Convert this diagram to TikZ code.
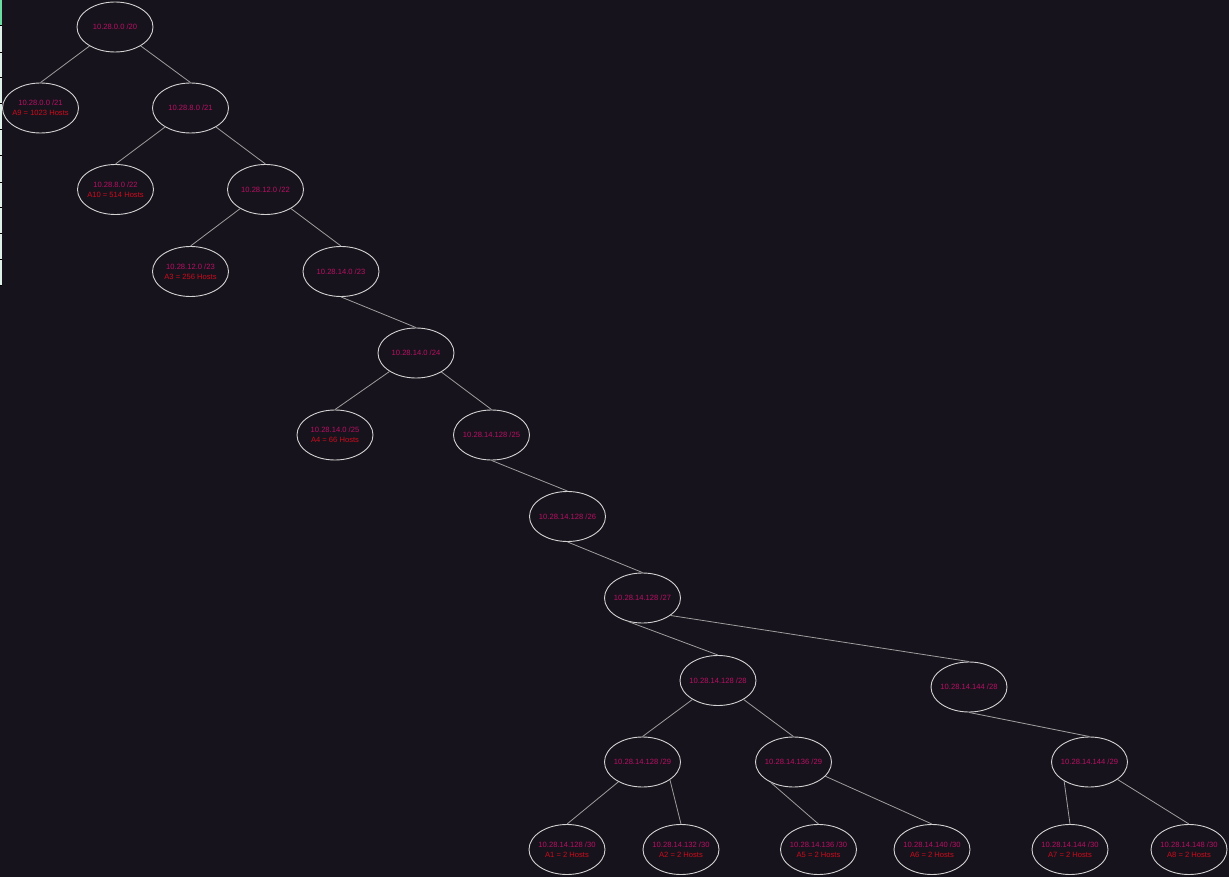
\documentclass[tikz,border=0pt]{standalone}
\usepackage{fontspec}
\setmainfont{Liberation Sans}
\usetikzlibrary{shapes.geometric}
\definecolor{bgdark}{RGB}{23,19,28}
\definecolor{rimgray}{RGB}{210,210,210}
\definecolor{edgegray}{RGB}{158,158,158}
\definecolor{ipcol}{RGB}{184,16,100}
\definecolor{hostcol}{RGB}{204,12,28}
\definecolor{stripcol}{RGB}{222,240,232}
\definecolor{stripgreen}{RGB}{110,220,160}

\begin{document}
\begin{tikzpicture}[x=1pt,y=-1pt]
\tikzstyle{every node}=[ellipse, draw=rimgray, line width=0.9pt, minimum width=76pt, minimum height=50pt, inner sep=-8pt, align=center, text=ipcol, font=\fontsize{7.6}{10}\selectfont]
\tikzstyle{link}=[draw=edgegray, line width=0.8pt]
\fill[bgdark] (0,0) rectangle (1229,877);
\useasboundingbox (0,0) rectangle (1229,877);
% screenshot edge
\fill[stripcol] (0,0) rectangle (2,285);
\fill[stripgreen] (0,0) rectangle (2,25);
\foreach \t in {25,52,77,103,129,155,182,207,233,259,285}
  \draw[black,line width=0.6pt] (0,\t) -- (2,\t);
% tree
\draw (115,27) node (s20) {10.28.0.0 /20};
\draw (40.5,108) node (s21a) {10.28.0.0 /21\\\textcolor{hostcol}{A9 = 1023 Hosts}};
\draw (190.5,108) node (s21b) {10.28.8.0 /21};
\draw (115.5,189.5) node (s22a) {10.28.8.0 /22\\\textcolor{hostcol}{A10 = 514 Hosts}};
\draw (265.5,189.5) node (s22b) {10.28.12.0 /22};
\draw (190.5,271.5) node (s23a) {10.28.12.0 /23\\\textcolor{hostcol}{A3 = 256 Hosts}};
\draw (341,271.5) node (s23b) {10.28.14.0 /23};
\draw (416,353) node (s24) {10.28.14.0 /24};
\draw (335,435) node (s25a) {10.28.14.0 /25\\\textcolor{hostcol}{A4 = 66 Hosts}};
\draw (491.5,435) node (s25b) {10.28.14.128 /25};
\draw (567.5,516.5) node (s26) {10.28.14.128 /26};
\draw (642.5,598) node (s27) {10.28.14.128 /27};
\draw (718,680.5) node (s28a) {10.28.14.128 /28};
\draw (969,687) node (s28b) {10.28.14.144 /28};
\draw (642.5,762) node (s29a) {10.28.14.128 /29};
\draw (793.5,762) node (s29b) {10.28.14.136 /29};
\draw (1089.5,762) node (s29c) {10.28.14.144 /29};
\draw (567,849.5) node (s30a) {10.28.14.128 /30\\\textcolor{hostcol}{A1 = 2 Hosts}};
\draw (681,849.5) node (s30b) {10.28.14.132 /30\\\textcolor{hostcol}{A2 = 2 Hosts}};
\draw (818.5,849.5) node (s30c) {10.28.14.136 /30\\\textcolor{hostcol}{A5 = 2 Hosts}};
\draw (932,849.5) node (s30d) {10.28.14.140 /30\\\textcolor{hostcol}{A6 = 2 Hosts}};
\draw (1070,849.5) node (s30e) {10.28.14.144 /30\\\textcolor{hostcol}{A7 = 2 Hosts}};
\draw (1189,849.5) node (s30f) {10.28.14.148 /30\\\textcolor{hostcol}{A8 = 2 Hosts}};
\draw[link] (s20) -- (s21a.north);
\draw[link] (s20) -- (s21b.north);
\draw[link] (s21b) -- (s22a.north);
\draw[link] (s21b) -- (s22b.north);
\draw[link] (s22b) -- (s23a.north);
\draw[link] (s22b) -- (s23b.north);
\draw[link] (s23b.south) -- (s24.north);
\draw[link] (s24) -- (s25a.north);
\draw[link] (s24) -- (s25b.north);
\draw[link] (s25b.south) -- (s26.north);
\draw[link] (s26.south) -- (s27.north);
\draw[link] (s27.240) -- (s28a.north);
\draw[link] (s27.328) -- (s28b.north);
\draw[link] (s28a) -- (s29a.north);
\draw[link] (s28a) -- (s29b.north);
\draw[link] (s28b.south) -- (s29c.north);
\draw[link] (s29a) -- (s30a.north);
\draw[link] (s29a.327) -- (s30b.north);
\draw[link] (s29b.222) -- (s30c.north);
\draw[link] (s29b) -- (s30d.north);
\draw[link] (s29c.217) -- (s30e.north);
\draw[link] (s29c) -- (s30f.north);
\end{tikzpicture}
\end{document}
